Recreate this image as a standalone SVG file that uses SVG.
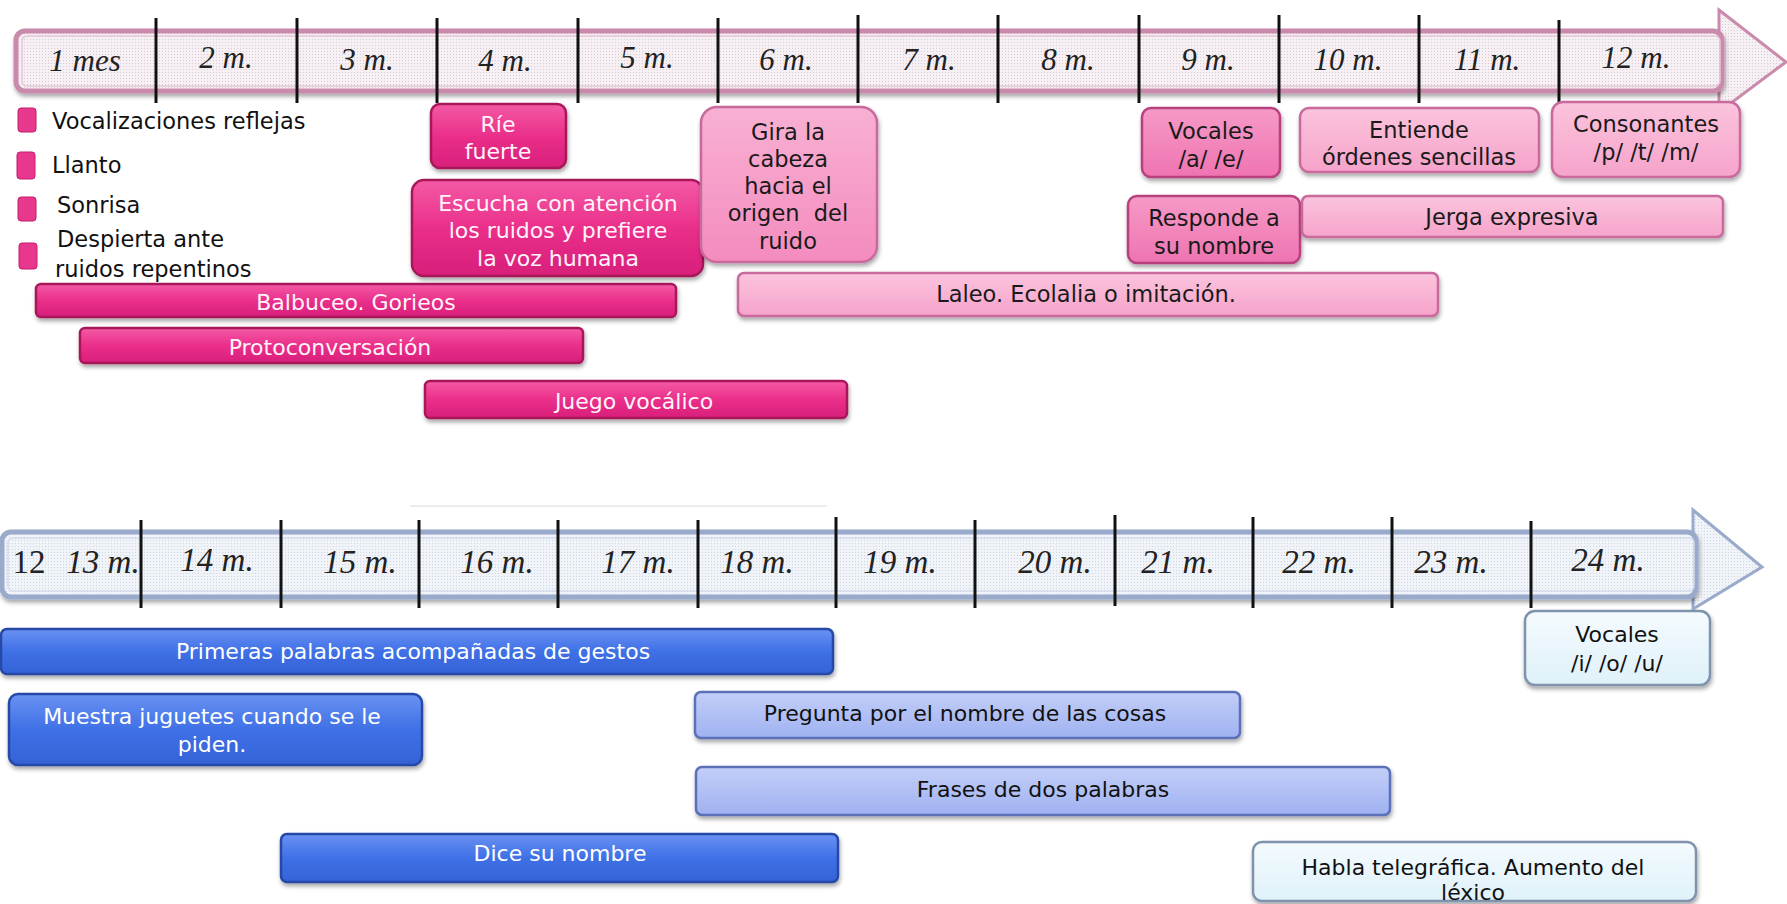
<svg xmlns="http://www.w3.org/2000/svg" width="1787" height="904" viewBox="0 0 1787 904">
<defs>
  <style>
    text { font-family: "DejaVu Sans", "Noto Sans", sans-serif; dominant-baseline: central; text-anchor: middle; }
    .mon { font-family: "Liberation Serif", "DejaVu Serif", serif; font-style: italic; font-size: 31px; fill: #222; }
    .monb { font-family: "Liberation Serif", "DejaVu Serif", serif; font-style: italic; font-size: 33px; fill: #222; }
    .lab { font-size: 22.5px; fill: #111; text-anchor: start; }
    .wt { font-size: 22px; fill: #fff4fa; }
    .dk { font-size: 22.5px; fill: #1a1a1a; }
    .bw { font-size: 22px; fill: #ffffff; }
    .bd { font-size: 22px; fill: #111; }
    .tick { stroke: #111; stroke-width: 3; }
    .hot { fill: url(#gHot); stroke: #a8185a; stroke-width: 2.5; filter: url(#sh); }
    .mid { fill: url(#gMid); stroke: #b8407e; stroke-width: 2.5; filter: url(#sh); }
    .lt { fill: url(#gLt); stroke: #c86a9c; stroke-width: 2.5; filter: url(#sh); }
    .blu { fill: url(#gBlu); stroke: #274aa8; stroke-width: 2.5; filter: url(#sh); }
    .peri { fill: url(#gPeri); stroke: #5b6fb8; stroke-width: 2.5; filter: url(#sh); }
    .pale { fill: url(#gPale); stroke: #7f93ad; stroke-width: 2.5; filter: url(#sh); }
    .bul { fill: #e8388d; stroke: #c21d6e; stroke-width: 1; }
  </style>
  <filter id="sh" x="-10%" y="-20%" width="120%" height="150%">
    <feDropShadow dx="1" dy="3" stdDeviation="2" flood-color="#000" flood-opacity="0.35"/>
  </filter>
  <linearGradient id="gHot" x1="0" y1="0" x2="0" y2="1">
    <stop offset="0" stop-color="#f45aa6"/><stop offset="0.5" stop-color="#ea2f8a"/><stop offset="1" stop-color="#d81f7b"/>
  </linearGradient>
  <linearGradient id="gMid" x1="0" y1="0" x2="0" y2="1">
    <stop offset="0" stop-color="#f69ac7"/><stop offset="1" stop-color="#ef74b1"/>
  </linearGradient>
  <linearGradient id="gGira" x1="0" y1="0" x2="0" y2="1">
    <stop offset="0" stop-color="#f8b0d2"/><stop offset="1" stop-color="#f48cbf"/>
  </linearGradient>
  <linearGradient id="gLt" x1="0" y1="0" x2="0" y2="1">
    <stop offset="0" stop-color="#fbc4dd"/><stop offset="1" stop-color="#f6a3ca"/>
  </linearGradient>
  <linearGradient id="gBlu" x1="0" y1="0" x2="0" y2="1">
    <stop offset="0" stop-color="#6a92f2"/><stop offset="0.5" stop-color="#3f70e6"/><stop offset="1" stop-color="#3562d6"/>
  </linearGradient>
  <linearGradient id="gPeri" x1="0" y1="0" x2="0" y2="1">
    <stop offset="0" stop-color="#c3cff8"/><stop offset="1" stop-color="#9fb1f1"/>
  </linearGradient>
  <linearGradient id="gPale" x1="0" y1="0" x2="0" y2="1">
    <stop offset="0" stop-color="#f4fbfe"/><stop offset="1" stop-color="#dff1f9"/>
  </linearGradient>
  <pattern id="dotP" width="3" height="3" patternUnits="userSpaceOnUse">
    <rect width="3" height="3" fill="#f6f0f4"/><rect width="1" height="1" fill="#d9cdd5"/>
  </pattern>
  <pattern id="dotB" width="3" height="3" patternUnits="userSpaceOnUse">
    <rect width="3" height="3" fill="#f0f3f8"/><rect width="1" height="1" fill="#cfd6e2"/>
  </pattern>
</defs>
<rect width="1787" height="904" fill="#ffffff"/>

<!-- top timeline -->
<g id="timeline-top">
  <polygon points="1719,10 1786,62 1719,112" fill="url(#dotP)" stroke="#c98aac" stroke-width="3"/>
  <rect x="16" y="31" width="1706" height="60" rx="9" fill="url(#dotP)" stroke="#c98aac" stroke-width="5" filter="url(#sh)"/>
  <rect x="22" y="36" width="1698" height="50" rx="5" fill="none" stroke="#e6c6d6" stroke-width="1.5"/>
  <line class="tick" x1="156" y1="18" x2="156" y2="103"/>
  <line class="tick" x1="297" y1="18" x2="297" y2="103"/>
  <line class="tick" x1="437" y1="18" x2="437" y2="103"/>
  <line class="tick" x1="578" y1="18" x2="578" y2="103"/>
  <line class="tick" x1="718" y1="18" x2="718" y2="103"/>
  <line class="tick" x1="858" y1="15" x2="858" y2="103"/>
  <line class="tick" x1="998" y1="15" x2="998" y2="103"/>
  <line class="tick" x1="1139" y1="15" x2="1139" y2="103"/>
  <line class="tick" x1="1279" y1="15" x2="1279" y2="103"/>
  <line class="tick" x1="1419" y1="15" x2="1419" y2="103"/>
  <line class="tick" x1="1559" y1="20" x2="1559" y2="103"/>
  <text class="mon" x="85" y="60">1 mes</text>
  <text class="mon" x="226" y="57">2 m.</text>
  <text class="mon" x="367" y="59">3 m.</text>
  <text class="mon" x="505" y="60">4 m.</text>
  <text class="mon" x="647" y="57">5 m.</text>
  <text class="mon" x="786" y="59">6 m.</text>
  <text class="mon" x="929" y="59">7 m.</text>
  <text class="mon" x="1068" y="59">8 m.</text>
  <text class="mon" x="1208" y="59">9 m.</text>
  <text class="mon" x="1348" y="59">10 m.</text>
  <text class="mon" x="1487" y="59">11 m.</text>
  <text class="mon" x="1636" y="57">12 m.</text>
</g>

<!-- legend bullets -->
<g id="n-vocalizaciones">
  <rect class="bul" x="18" y="108" width="18" height="24" rx="3"/>
  <text class="lab" x="52" y="121">Vocalizaciones reflejas</text>
</g>
<g id="n-llanto">
  <rect class="bul" x="17" y="152" width="18" height="27" rx="3"/>
  <text class="lab" x="52" y="165">Llanto</text>
</g>
<g id="n-sonrisa">
  <rect class="bul" x="18" y="197" width="18" height="24" rx="3"/>
  <text class="lab" x="57" y="205">Sonrisa</text>
</g>
<g id="n-despierta">
  <rect class="bul" x="19" y="243" width="18" height="26" rx="3"/>
  <text class="lab" x="57" y="239">Despierta ante</text>
  <text class="lab" x="55" y="269">ruidos repentinos</text>
</g>

<!-- top nodes -->
<g id="n-rie">
  <rect class="hot" x="431" y="104" width="135" height="64" rx="9"/>
  <text class="wt" x="498" y="124">Ríe</text>
  <text class="wt" x="498" y="151">fuerte</text>
</g>
<g id="n-escucha">
  <rect class="hot" x="412" y="180" width="291" height="96" rx="12"/>
  <text class="wt" x="558" y="203">Escucha con atención</text>
  <text class="wt" x="558" y="230">los ruidos y prefiere</text>
  <text class="wt" x="558" y="258">la voz humana</text>
</g>
<g id="n-gira">
  <rect class="lt" x="701" y="107" width="176" height="155" rx="16" style="fill:url(#gGira)"/>
  <text class="dk" x="788" y="132">Gira la</text>
  <text class="dk" x="788" y="159">cabeza</text>
  <text class="dk" x="788" y="186">hacia el</text>
  <text class="dk" x="788" y="213" xml:space="preserve">origen  del</text>
  <text class="dk" x="788" y="241">ruido</text>
</g>
<g id="n-vocales-ae">
  <rect class="mid" x="1142" y="108" width="138" height="69" rx="9"/>
  <text class="dk" x="1211" y="131">Vocales</text>
  <text class="dk" x="1211" y="159">/a/ /e/</text>
</g>
<g id="n-entiende">
  <rect class="lt" x="1300" y="108" width="239" height="64" rx="9"/>
  <text class="dk" x="1419" y="130">Entiende</text>
  <text class="dk" x="1419" y="157">órdenes sencillas</text>
</g>
<g id="n-consonantes">
  <rect class="lt" x="1552" y="102" width="188" height="75" rx="11"/>
  <text class="dk" x="1646" y="124">Consonantes</text>
  <text class="dk" x="1646" y="152">/p/ /t/ /m/</text>
</g>
<g id="n-responde">
  <rect class="mid" x="1128" y="196" width="172" height="67" rx="9"/>
  <text class="dk" x="1214" y="218">Responde a</text>
  <text class="dk" x="1214" y="246">su nombre</text>
</g>
<g id="n-jerga">
  <rect class="lt" x="1302" y="196" width="421" height="41" rx="6"/>
  <text class="dk" x="1512" y="217">Jerga expresiva</text>
</g>
<g id="n-laleo">
  <rect class="lt" x="738" y="273" width="700" height="43" rx="6"/>
  <text class="dk" x="1086" y="294">Laleo. Ecolalia o imitación.</text>
</g>
<g id="n-balbuceo">
  <rect class="hot" x="36" y="284" width="640" height="33" rx="5"/>
  <text class="wt" x="356" y="302">Balbuceo. Gorieos</text>
</g>
<g id="n-protoconversacion">
  <rect class="hot" x="80" y="328" width="503" height="35" rx="5"/>
  <text class="wt" x="330" y="347">Protoconversación</text>
</g>
<g id="n-juego">
  <rect class="hot" x="425" y="381" width="422" height="37" rx="5"/>
  <text class="wt" x="634" y="401">Juego vocálico</text>
</g>

<!-- faint line -->
<line x1="410" y1="506" x2="827" y2="506" stroke="#ececec" stroke-width="2"/>

<!-- bottom timeline -->
<g id="timeline-bottom">
  <polygon points="1693,510 1762,567 1693,609" fill="url(#dotB)" stroke="#9aaacb" stroke-width="3"/>
  <rect x="2" y="532" width="1694" height="65" rx="9" fill="url(#dotB)" stroke="#9aaacb" stroke-width="5" filter="url(#sh)"/>
  <rect x="8" y="538" width="1686" height="53" rx="5" fill="none" stroke="#d3dbea" stroke-width="1.5"/>
  <line class="tick" x1="141" y1="520" x2="141" y2="608"/>
  <line class="tick" x1="281" y1="520" x2="281" y2="608"/>
  <line class="tick" x1="419" y1="520" x2="419" y2="608"/>
  <line class="tick" x1="558" y1="520" x2="558" y2="608"/>
  <line class="tick" x1="698" y1="520" x2="698" y2="608"/>
  <line class="tick" x1="836" y1="517" x2="836" y2="608"/>
  <line class="tick" x1="975" y1="520" x2="975" y2="608"/>
  <line class="tick" x1="1115" y1="515" x2="1115" y2="606"/>
  <line class="tick" x1="1253" y1="517" x2="1253" y2="608"/>
  <line class="tick" x1="1392" y1="517" x2="1392" y2="608"/>
  <line class="tick" x1="1531" y1="521" x2="1531" y2="608"/>
  <text class="monb" x="29" y="562" style="font-style:normal">12</text>
  <text class="monb" x="103" y="562">13 m.</text>
  <text class="monb" x="217" y="560">14 m.</text>
  <text class="monb" x="360" y="562">15 m.</text>
  <text class="monb" x="497" y="562">16 m.</text>
  <text class="monb" x="638" y="562">17 m.</text>
  <text class="monb" x="757" y="562">18 m.</text>
  <text class="monb" x="900" y="562">19 m.</text>
  <text class="monb" x="1055" y="562">20 m.</text>
  <text class="monb" x="1178" y="562">21 m.</text>
  <text class="monb" x="1319" y="562">22 m.</text>
  <text class="monb" x="1451" y="562">23 m.</text>
  <text class="monb" x="1608" y="560">24 m.</text>
</g>

<!-- bottom nodes -->
<g id="n-primeras">
  <rect class="blu" x="1" y="629" width="832" height="45" rx="6"/>
  <text class="bw" x="413" y="651">Primeras palabras acompañadas de gestos</text>
</g>
<g id="n-muestra">
  <rect class="blu" x="9" y="694" width="413" height="71" rx="9"/>
  <text class="bw" x="212" y="716">Muestra juguetes cuando se le</text>
  <text class="bw" x="212" y="744">piden.</text>
</g>
<g id="n-dice">
  <rect class="blu" x="281" y="834" width="557" height="48" rx="6"/>
  <text class="bw" x="560" y="853">Dice su nombre</text>
</g>
<g id="n-pregunta">
  <rect class="peri" x="695" y="692" width="545" height="46" rx="6"/>
  <text class="bd" x="965" y="713">Pregunta por el nombre de las cosas</text>
</g>
<g id="n-frases">
  <rect class="peri" x="696" y="767" width="694" height="48" rx="6"/>
  <text class="bd" x="1043" y="789">Frases de dos palabras</text>
</g>
<g id="n-habla">
  <rect class="pale" x="1253" y="842" width="443" height="59" rx="9"/>
  <text class="bd" x="1473" y="867">Habla telegráfica. Aumento del</text>
  <text class="bd" x="1473" y="892">léxico</text>
</g>
<g id="n-vocales-iou">
  <rect class="pale" x="1525" y="611" width="185" height="74" rx="10"/>
  <text class="bd" x="1617" y="634">Vocales</text>
  <text class="bd" x="1617" y="663">/i/ /o/ /u/</text>
</g>
</svg>
